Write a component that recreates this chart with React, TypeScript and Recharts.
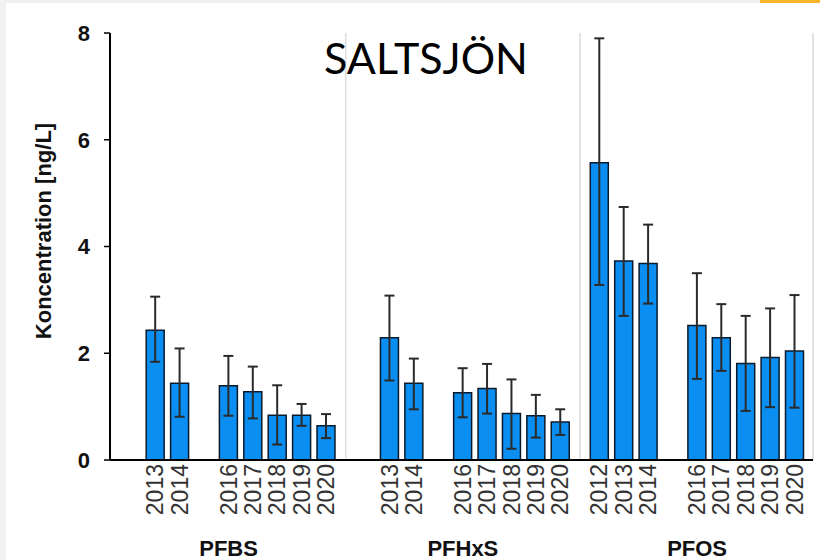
import React from 'react'
import { BarChart, Bar, XAxis, YAxis, ErrorBar, ReferenceLine } from 'recharts'

const groups = ['PFBS', 'PFHxS', 'PFOS']

const pfbsYears = [2013, 2014, 2016, 2017, 2018, 2019, 2020]
const pfbsMean = [2.43, 1.44, 1.39, 1.28, 0.84, 0.84, 0.64]
const pfbsLow = [1.84, 0.81, 0.83, 0.78, 0.29, 0.64, 0.41]
const pfbsHigh = [3.06, 2.09, 1.95, 1.75, 1.4, 1.05, 0.86]

const pfhxsYears = [2013, 2014, 2016, 2017, 2018, 2019, 2020]
const pfhxsMean = [2.29, 1.44, 1.26, 1.34, 0.87, 0.83, 0.71]
const pfhxsLow = [1.49, 0.95, 0.8, 0.87, 0.21, 0.42, 0.47]
const pfhxsHigh = [3.08, 1.9, 1.72, 1.8, 1.51, 1.22, 0.95]

const pfosYears = [2012, 2013, 2014, 2016, 2017, 2018, 2019, 2020]
const pfosMean = [5.57, 3.73, 3.68, 2.52, 2.29, 1.81, 1.92, 2.04]
const pfosLow = [3.28, 2.7, 2.93, 1.52, 1.67, 0.92, 0.99, 0.98]
const pfosHigh = [7.9, 4.74, 4.41, 3.5, 2.92, 2.7, 2.84, 3.09]

const yTicks = [0, 2, 4, 6, 8]

// each group holds 9 year slots (2012-2020), plus a little padding
const FIRST_YEAR = 2012
const GROUP_STEP = 9.6
const X_DOMAIN: [number, number] = [-0.86, 27.95]

const series = [
  { years: pfbsYears, mean: pfbsMean, low: pfbsLow, high: pfbsHigh },
  { years: pfhxsYears, mean: pfhxsMean, low: pfhxsLow, high: pfhxsHigh },
  { years: pfosYears, mean: pfosMean, low: pfosLow, high: pfosHigh },
]

const rows = series.flatMap((s, g) =>
  s.years.map((yr, i) => ({
    x: g * GROUP_STEP + (yr - FIRST_YEAR),
    year: String(yr),
    value: s.mean[i],
    err: [s.mean[i] - s.low[i], s.high[i] - s.mean[i]],
  }))
)

const yearByX = new Map(rows.map(r => [r.x, r.year]))
const groupCenters = groups.map((_, g) => g * GROUP_STEP + 4)
const separators = [GROUP_STEP - 0.8, 2 * GROUP_STEP - 0.8]

function YearTick(props: any) {
  const { x, payload } = props
  const bx = x + 8
  const by = 464
  return (
    <text
      x={bx}
      y={by}
      transform={`rotate(-90, ${bx}, ${by})`}
      textAnchor="end"
      fontFamily="Liberation Sans, Arial, sans-serif"
      fontSize={23}
      fill="#333"
    >
      {yearByX.get(payload.value)}
    </text>
  )
}

function GroupTick(props: any) {
  const { x, index } = props
  return (
    <text
      x={x}
      y={556}
      textAnchor="middle"
      fontFamily="Liberation Sans, Arial, sans-serif"
      fontWeight="bold"
      fontSize={22}
      fill="#111"
    >
      {groups[index]}
    </text>
  )
}

function YLabel() {
  return (
    <text
      x={43}
      y={231}
      transform="rotate(-90, 43, 231)"
      textAnchor="middle"
      dominantBaseline="central"
      fontFamily="Liberation Sans, Arial, sans-serif"
      fontWeight="bold"
      fontSize={22}
      fill="#111"
    >
      Koncentration [ng/L]
    </text>
  )
}

export default function App() {
  return (
    <div
      style={{
        position: 'absolute',
        left: 0,
        top: 0,
        width: 820,
        height: 560,
        background: '#fff',
        overflow: 'hidden',
      }}
    >
      <div style={{ position: 'absolute', left: 0, top: 0, width: 820, height: 3, background: '#efefef' }} />
      <div style={{ position: 'absolute', left: 760, top: 0, width: 60, height: 3, background: '#f8b528' }} />
      <div style={{ position: 'absolute', left: 0, top: 0, width: 6, height: 560, background: '#f1f1f1' }} />
      <BarChart
        width={820}
        height={560}
        data={rows}
        margin={{ top: 33, right: 7, left: 0, bottom: 0 }}
      >
        {separators.map(s => (
          <ReferenceLine key={s} x={s} stroke="#dcdcdc" strokeWidth={1.5} />
        ))}
        <ReferenceLine x={X_DOMAIN[1]} stroke="#e2e2e2" strokeWidth={2} />
        <XAxis
          dataKey="x"
          type="number"
          domain={X_DOMAIN}
          allowDataOverflow
          ticks={rows.map(r => r.x)}
          interval={0}
          tick={<YearTick />}
          tickLine={false}
          axisLine={{ stroke: '#000', strokeWidth: 2 }}
          height={62}
        />
        <XAxis
          xAxisId="grp"
          dataKey="x"
          type="number"
          domain={X_DOMAIN}
          allowDataOverflow
          ticks={groupCenters}
          interval={0}
          tick={<GroupTick />}
          tickLine={false}
          axisLine={false}
          height={38}
        />
        <YAxis
          domain={[0, 8]}
          ticks={yTicks}
          width={110}
          tickSize={6}
          tickMargin={14}
          tickLine={{ stroke: '#000', strokeWidth: 1.5 }}
          axisLine={{ stroke: '#000', strokeWidth: 2 }}
          tick={{ fontFamily: 'Liberation Sans, Arial, sans-serif', fontWeight: 'bold', fontSize: 22, fill: '#111' }}
          label={<YLabel />}
        />
        <Bar dataKey="value" barSize={18} fill="#0a8ef2" stroke="#0b1a2a" strokeWidth={1.5} isAnimationActive={false}>
          <ErrorBar dataKey="err" width={5} stroke="#2a2a2a" strokeWidth={2} direction="y" isAnimationActive={false} />
        </Bar>
      </BarChart>
      <div
        style={{
          position: 'absolute',
          left: 426,
          top: 33,
          transform: 'translateX(-50%)',
          fontFamily: 'Lato, sans-serif',
          fontSize: 43,
          lineHeight: '50px',
          color: '#000',
          whiteSpace: 'nowrap',
        }}
      >
        SALTSJÖN
      </div>
    </div>
  )
}
